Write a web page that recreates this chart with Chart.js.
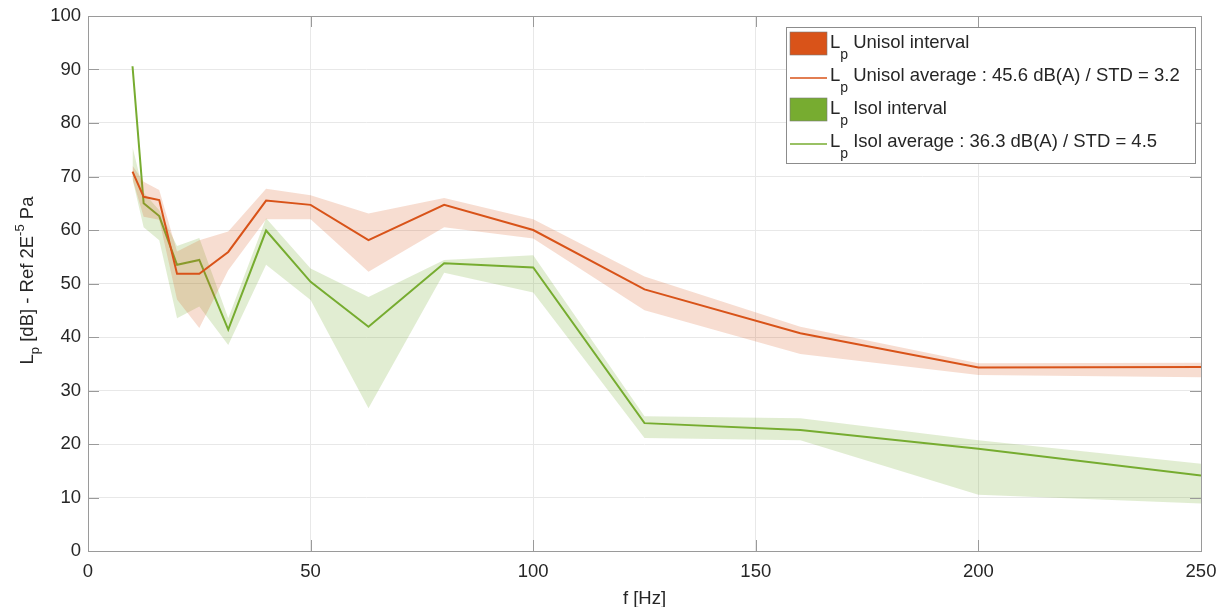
<!DOCTYPE html>
<html><head><meta charset="utf-8">
<script src="https://cdn.jsdelivr.net/npm/chart.js@4/dist/chart.umd.min.js"></script>
<style>html,body{margin:0;padding:0;background:#fff}#wrap{width:1219px;height:607px}</style>
</head><body><div id="wrap"><canvas id="c" width="1219" height="607"></canvas></div>
<script>
const freqs = [10,12.5,16,20,25,31.5,40,50,63,80,100,125,160,200,250];
const unisolAvg  = [70.9,66.2,65.6,51.8,51.8,55.9,65.5,64.7,58.1,64.7,60.0,48.9,40.7,34.3,34.4];
const unisolHigh = [72.0,69.0,67.5,56.0,58.1,59.7,67.7,66.5,63.1,66.0,62.0,51.3,41.9,35.1,35.2];
const unisolLow  = [69.5,62.5,61.9,47.0,41.7,52.5,62.0,62.0,52.2,60.5,58.4,45.0,36.8,32.9,32.5];
const isolAvg    = [90.6,65.0,62.6,53.5,54.4,41.4,59.9,50.3,41.9,53.8,53.0,23.9,22.6,19.1,14.1];
const isolHigh   = [75.5,67.0,63.7,57.0,58.5,43.5,62.2,52.8,47.5,54.4,55.3,25.2,24.8,20.7,16.3];
const isolLow    = [69.5,60.5,58.1,43.5,45.7,38.5,53.5,46.9,26.7,52.0,48.3,21.1,20.7,10.5,8.9];
const legendLabels = ["Unisol interval","Unisol average : 45.6 dB(A) / STD = 3.2","Isol interval","Isol average : 36.3 dB(A) / STD = 4.5"];
const xTicks = [0,50,100,150,200,250];
const yTicks = [0,10,20,30,40,50,60,70,80,90,100];

const ORANGE = '#D95319', GREEN = '#77AC30';
const pts = arr => freqs.map((f,i)=>({x:f,y:arr[i]}));
const FONT = '"Liberation Sans", Arial, sans-serif';
const TXT = '#262626';
const FS = 18.5;

const decor = {
  id:'decor',
  afterDraw(chart){
    const ctx = chart.ctx, a = chart.chartArea;
    const xs = chart.scales.x, ys = chart.scales.y;
    ctx.save();
    ctx.strokeStyle = '#9a9a9a'; ctx.lineWidth = 1;
    ctx.strokeRect(Math.round(a.left)+0.5, Math.round(a.top)+0.5, Math.round(a.right-a.left), Math.round(a.bottom-a.top));
    ctx.beginPath();
    xTicks.forEach(v=>{const px=Math.round(xs.getPixelForValue(v))+0.5; ctx.moveTo(px,a.bottom); ctx.lineTo(px,a.bottom-11); ctx.moveTo(px,a.top); ctx.lineTo(px,a.top+11);});
    yTicks.forEach(v=>{const py=Math.round(ys.getPixelForValue(v))+0.5; ctx.moveTo(a.left,py); ctx.lineTo(a.left+11,py); ctx.moveTo(a.right,py); ctx.lineTo(a.right-11,py);});
    ctx.stroke();
    ctx.fillStyle = TXT; ctx.font = FS+'px '+FONT; ctx.textAlign='center'; ctx.textBaseline='alphabetic';
    ctx.fillText('f [Hz]', (a.left+a.right)/2, 604);
    ctx.save();
    ctx.translate(33, (a.top+a.bottom)/2 - 3); ctx.rotate(-Math.PI/2);
    const parts = [['L',0,FS],['p',6,13],[' [dB] - Ref 2E',0,FS],['-5',-9,13],[' Pa',0,FS]];
    let total = 0; parts.forEach(p=>{ctx.font=p[2]+'px '+FONT; total+=ctx.measureText(p[0]).width;});
    let x = -total/2; ctx.textAlign='left';
    parts.forEach(p=>{ctx.font=p[2]+'px '+FONT; ctx.fillText(p[0], x, p[1]); x+=ctx.measureText(p[0]).width;});
    ctx.restore();
    const lx=786, ly=27, lw=409, lh=136;
    ctx.fillStyle='#fff'; ctx.fillRect(lx,ly,lw,lh);
    ctx.strokeStyle='#8c8c8c'; ctx.strokeRect(lx+0.5,ly+0.5,lw,lh);
    const rows=[{t:legendLabels[0],c:ORANGE,box:true},{t:legendLabels[1],c:ORANGE,box:false},{t:legendLabels[2],c:GREEN,box:true},{t:legendLabels[3],c:GREEN,box:false}];
    rows.forEach((r,i)=>{
      const cy = 43 + i*33;
      if(r.box){ ctx.fillStyle=r.c; ctx.fillRect(790,cy-11,37,23); ctx.strokeStyle='#7a7a7a'; ctx.lineWidth=0.6; ctx.strokeRect(790,cy-11,37,23); ctx.lineWidth=1; }
      else { ctx.strokeStyle=r.c; ctx.lineWidth=1.3; ctx.beginPath(); ctx.moveTo(790,cy+2); ctx.lineTo(827,cy+2); ctx.stroke(); ctx.lineWidth=1; }
      ctx.fillStyle=TXT; ctx.textAlign='left'; ctx.textBaseline='middle';
      ctx.font=FS+'px '+FONT; ctx.fillText('L',830,cy);
      const lw1=ctx.measureText('L').width;
      ctx.font='14px '+FONT; ctx.fillText('p',830+lw1,cy+12);
      const pw=ctx.measureText('p').width;
      ctx.font=FS+'px '+FONT; ctx.fillText(' '+r.t,830+lw1+pw,cy);
    });
    ctx.restore();
  }
};

new Chart(document.getElementById('c'), {
  type:'line',
  data:{datasets:[
    {label:'Unisol high', data:pts(unisolHigh), borderWidth:0, pointRadius:0, fill:'+1', backgroundColor:'rgba(217,83,25,0.2)', borderColor:'rgba(0,0,0,0)', tension:0},
    {label:'Unisol low', data:pts(unisolLow), borderWidth:0, pointRadius:0, fill:false, borderColor:'rgba(0,0,0,0)', tension:0},
    {label:'Unisol avg', data:pts(unisolAvg), borderWidth:2, pointRadius:0, fill:false, borderColor:ORANGE, tension:0},
    {label:'Isol high', data:pts(isolHigh), borderWidth:0, pointRadius:0, fill:'+1', backgroundColor:'rgba(119,172,48,0.22)', borderColor:'rgba(0,0,0,0)', tension:0},
    {label:'Isol low', data:pts(isolLow), borderWidth:0, pointRadius:0, fill:false, borderColor:'rgba(0,0,0,0)', tension:0},
    {label:'Isol avg', data:pts(isolAvg), borderWidth:2, pointRadius:0, fill:false, borderColor:GREEN, tension:0}
  ]},
  options:{
    responsive:false, animation:false,
    layout:{padding:{left:0,top:16,right:18,bottom:0}},
    plugins:{legend:{display:false}, tooltip:{enabled:false}},
    scales:{
      x:{type:'linear', min:0, max:250, afterBuildTicks:s=>{s.ticks=xTicks.map(v=>({value:v}));},
         afterFit:s=>{s.height=56; s.paddingLeft=0; s.paddingRight=0;},
         grid:{color:'#e8e8e8', drawTicks:false}, border:{display:false},
         ticks:{color:TXT, font:{family:FONT,size:FS}, padding:10, maxRotation:0}},
      y:{type:'linear', min:0, max:100, afterBuildTicks:s=>{s.ticks=yTicks.map(v=>({value:v}));},
         afterFit:s=>{s.width=88; s.paddingTop=0; s.paddingBottom=0;},
         grid:{color:'#e8e8e8', drawTicks:false}, border:{display:false},
         ticks:{color:TXT, font:{family:FONT,size:FS}, padding:7}}
    }
  },
  plugins:[decor]
});
</script></body></html>
